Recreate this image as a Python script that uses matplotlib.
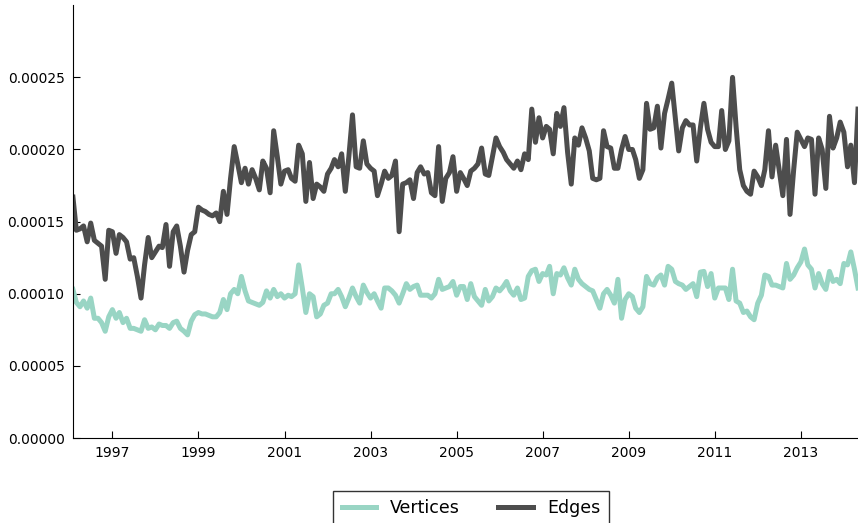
import pandas as pd
import matplotlib
matplotlib.use('Agg')
import matplotlib.pyplot as plt
from matplotlib.ticker import FormatStrFormatter

# monthly values, in units of 1e-4
vertices = [
    1.03, 0.94, 0.91, 0.95, 0.90, 0.97, 0.83, 0.83, 0.80, 0.74,
    0.84, 0.89, 0.83, 0.87, 0.80, 0.83, 0.76, 0.76, 0.75, 0.74,
    0.82, 0.76, 0.77, 0.75, 0.79, 0.78, 0.78, 0.76, 0.80, 0.81,
    0.76, 0.74, 0.715, 0.81, 0.855, 0.87, 0.86, 0.86, 0.85, 0.84,
    0.84, 0.87, 0.96, 0.89, 1.00, 1.03, 1.00, 1.12, 1.02, 0.95,
    0.94, 0.93, 0.92, 0.94, 1.02, 0.97, 1.03, 0.98, 1.00, 0.97,
    0.99, 0.98, 1.00, 1.20, 1.04, 0.87, 1.00, 0.98, 0.84, 0.86,
    0.92, 0.935, 1.00, 1.00, 1.03, 0.98, 0.91, 0.97, 1.04, 0.98,
    0.935, 1.06, 1.01, 0.97, 1.00, 0.95, 0.90, 1.04, 1.04, 1.02,
    0.99, 0.935, 1.00, 1.07, 1.03, 1.05, 1.06, 0.99, 0.99, 0.99,
    0.97, 1.00, 1.10, 1.03, 1.04, 1.05, 1.085, 0.99, 1.05, 1.05,
    0.96, 1.07, 0.98, 0.95, 0.92, 1.03, 0.95, 0.98, 1.04, 1.02,
    1.05, 1.085, 1.02, 0.99, 1.04, 0.96, 0.97, 1.12, 1.16, 1.17,
    1.085, 1.14, 1.13, 1.19, 1.00, 1.14, 1.13, 1.18, 1.11, 1.06,
    1.17, 1.10, 1.07, 1.05, 1.03, 1.02, 0.96, 0.90, 1.00, 1.03,
    0.99, 0.935, 1.10, 0.83, 0.96, 1.00, 0.98, 0.90, 0.87, 0.91,
    1.12, 1.07, 1.06, 1.11, 1.13, 1.06, 1.19, 1.17, 1.085, 1.07,
    1.06, 1.03, 1.05, 1.07, 0.98, 1.15, 1.155, 1.05, 1.14, 0.97,
    1.04, 1.04, 1.04, 0.96, 1.17, 0.95, 0.935, 0.87, 0.88, 0.84,
    0.82, 0.935, 0.99, 1.13, 1.12, 1.06, 1.06, 1.05, 1.04, 1.21,
    1.10, 1.13, 1.18, 1.22, 1.31, 1.20, 1.17, 1.04, 1.14, 1.07,
    1.03, 1.155, 1.085, 1.10, 1.07, 1.21, 1.20, 1.29, 1.17, 1.04,
]

edges = [
    1.67, 1.44, 1.45, 1.47, 1.36, 1.49, 1.37, 1.35, 1.33, 1.10,
    1.44, 1.43, 1.28, 1.41, 1.39, 1.36, 1.24, 1.25, 1.12, 0.97,
    1.20, 1.39, 1.25, 1.29, 1.33, 1.32, 1.48, 1.19, 1.43, 1.47,
    1.33, 1.15, 1.30, 1.41, 1.43, 1.60, 1.58, 1.57, 1.55, 1.54,
    1.56, 1.50, 1.71, 1.55, 1.80, 2.02, 1.90, 1.77, 1.87, 1.76,
    1.86, 1.80, 1.72, 1.92, 1.87, 1.70, 2.13, 1.95, 1.76, 1.85,
    1.86, 1.80, 1.78, 2.03, 1.97, 1.64, 1.91, 1.66, 1.76, 1.74,
    1.71, 1.83, 1.87, 1.93, 1.88, 1.97, 1.71, 1.95, 2.24, 1.88,
    1.87, 2.06, 1.90, 1.87, 1.85, 1.68, 1.76, 1.85, 1.80, 1.82,
    1.92, 1.43, 1.76, 1.77, 1.79, 1.66, 1.84, 1.88, 1.83, 1.84,
    1.70, 1.68, 2.02, 1.64, 1.80, 1.84, 1.95, 1.71, 1.84, 1.80,
    1.75, 1.85, 1.87, 1.90, 2.01, 1.83, 1.82, 1.95, 2.08, 2.02,
    1.98, 1.93, 1.90, 1.87, 1.92, 1.86, 1.97, 1.93, 2.28, 2.05,
    2.22, 2.08, 2.16, 2.14, 1.97, 2.25, 2.16, 2.29, 1.98, 1.76,
    2.08, 2.03, 2.15, 2.08, 1.99, 1.80, 1.79, 1.80, 2.13, 2.02,
    2.01, 1.87, 1.87, 2.00, 2.09, 2.00, 2.00, 1.93, 1.80, 1.86,
    2.32, 2.14, 2.15, 2.30, 2.01, 2.25, 2.35, 2.46, 2.21, 1.99,
    2.15, 2.20, 2.17, 2.17, 1.92, 2.15, 2.32, 2.14, 2.05, 2.02,
    2.02, 2.27, 2.00, 2.06, 2.50, 2.16, 1.86, 1.75, 1.71, 1.69,
    1.85, 1.81, 1.75, 1.86, 2.13, 1.81, 2.03, 1.86, 1.68, 2.07,
    1.55, 1.86, 2.12, 2.07, 2.02, 2.08, 2.07, 1.69, 2.08, 2.00,
    1.73, 2.23, 2.01, 2.08, 2.19, 2.12, 1.88, 2.03, 1.77, 2.28,
]

dates = pd.date_range('1996-02-01', periods=len(edges), freq='MS')
tick_years = [1997, 1999, 2001, 2003, 2005, 2007, 2009, 2011, 2013]
y_ticks = [0.0, 0.00005, 0.0001, 0.00015, 0.0002, 0.00025]

fig = plt.figure(figsize=(8.58, 5.23), dpi=100)
ax = fig.add_axes([0.085, 0.1625, 0.915, 0.8275])

ax.plot(dates, [v * 1e-4 for v in vertices], color='#99d5c4', lw=3.6, label='Vertices')
ax.plot(dates, [v * 1e-4 for v in edges], color='#4d4d4d', lw=3.6, label='Edges')

ax.set_xlim(dates[0], dates[-1])
ax.set_ylim(0, 0.0003)
ax.set_xticks([pd.Timestamp(f'{y}-01-01') for y in tick_years])
ax.set_xticklabels([str(y) for y in tick_years])
ax.set_yticks(y_ticks)
ax.yaxis.set_major_formatter(FormatStrFormatter('%.5f'))

for s in ['top', 'right']:
    ax.spines[s].set_visible(False)
ax.tick_params(direction='in', length=5, labelsize=10, top=False, right=False, pad=6)

# legend sits below the axes, its bottom edge runs off the figure like the original
leg = ax.legend(loc='upper center', bbox_to_anchor=(0.507, -0.1015), ncol=2,
                fontsize=12.5, fancybox=False, edgecolor='black',
                handlelength=2.0, columnspacing=2.2, borderpad=0.5)
leg.get_frame().set_linewidth(1.0)

plt.savefig('out.png', dpi=100)
